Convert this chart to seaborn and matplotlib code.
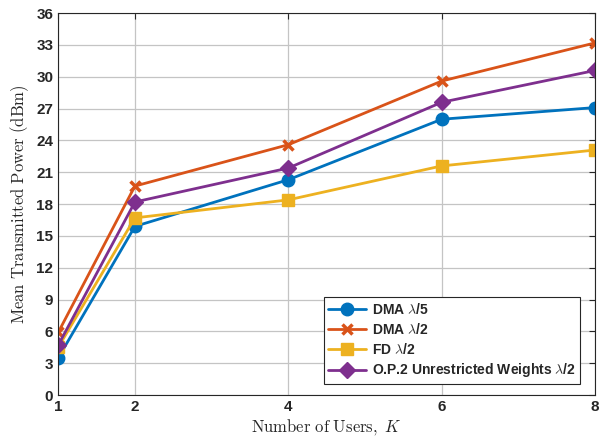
import numpy as np
import pandas as pd
import matplotlib
matplotlib.use('Agg')
import matplotlib.pyplot as plt
import seaborn as sns

#DATA
users = [1, 2, 4, 6, 8]
dma_l5 = [3.5, 15.9, 20.3, 26.0, 27.1]
dma_l2 = [5.9, 19.7, 23.6, 29.6, 33.2]
fd_l2 = [4.5, 16.7, 18.4, 21.6, 23.1]
op2_l2 = [4.7, 18.2, 21.4, 27.6, 30.6]
labels = [r'DMA $\lambda$/5', r'DMA $\lambda$/2', r'FD $\lambda$/2',
          r'O.P.2 Unrestricted Weights $\lambda$/2']

#STYLE
sns.set_style('white')
plt.rcParams['font.family'] = ['Liberation Sans', 'DejaVu Sans']
plt.rcParams['mathtext.fontset'] = 'cm'

series = [dma_l5, dma_l2, fd_l2, op2_l2]
colors = ['#0072BD', '#D95319', '#EDB120', '#7E2F8E']
markers = ['o', 'x', 's', 'D']
msizes = [9, 7, 8, 8]
medges = [1, 2.5, 1, 1]

fig = plt.figure(figsize=(6, 4.38), dpi=100)
ax = fig.add_axes([0.097, 0.098, 0.895, 0.872])

for vals, lab, c, m, ms, mew in zip(series, labels, colors, markers, msizes, medges):
    sns.lineplot(x=users, y=vals, ax=ax, color=c, marker=m, markersize=ms,
                 markeredgecolor=c, markeredgewidth=mew, linewidth=2, label=lab)

ax.set_xlim(1, 8)
ax.set_ylim(0, 36)
ax.set_xticks([1, 2, 4, 6, 8])
ax.set_yticks(np.arange(0, 37, 3))
ax.grid(True, color='#c4c4c4', linewidth=0.9)
for s in ax.spines.values():
    s.set_color('#262626')
    s.set_linewidth(0.8)
ax.tick_params(direction='in', length=4, width=0.8, top=True, right=True,
               labelsize=11, colors='#262626')
for t in ax.get_xticklabels() + ax.get_yticklabels():
    t.set_fontweight('bold')

ax.set_xlabel(r'$\mathrm{Number\ of\ Users,}\ K$', fontsize=12, labelpad=2)
ax.set_ylabel(r'$\mathrm{Mean\ Transmitted\ Power\ (dBm)}$', fontsize=12, labelpad=4)

leg = ax.legend(loc='lower right', bbox_to_anchor=(0.985, 0.01), fancybox=False,
                edgecolor='#262626', framealpha=1, handlelength=2.7,
                borderpad=0.35, labelspacing=0.35, handletextpad=0.4,
                prop={'weight': 'bold', 'size': 10})
leg.get_frame().set_linewidth(0.8)

plt.savefig('out.png', dpi=100)
